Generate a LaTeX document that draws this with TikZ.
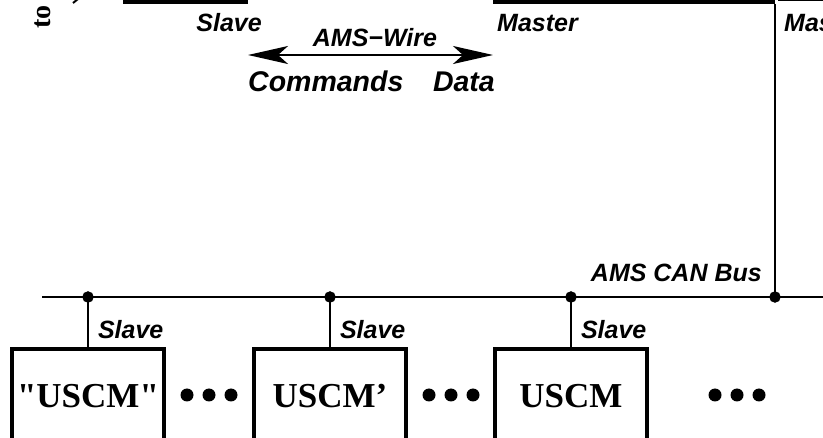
\documentclass[tikz,border=0pt]{standalone}
\usepackage{fontspec}
\setmainfont{Liberation Serif}[Ligatures=TeXOff]
\newfontfamily\labelfont{Liberation Sans}
\usetikzlibrary{arrows.meta}
\tikzset{
	unit/.style={draw, line width=4pt, minimum width=152pt, minimum height=94pt, inner sep=0pt, font=\bfseries\fontsize{35}{40}\selectfont},
	topbox/.style={draw, line width=4pt, inner sep=0pt, minimum height=80pt, anchor=south west},
	lbl/.style={font=\labelfont\bfseries\itshape\fontsize{25}{30}\selectfont, inner sep=0pt},
	biglbl/.style={font=\labelfont\bfseries\itshape\fontsize{28.5}{32}\selectfont, inner sep=0pt},
	wire/.style={line width=2pt},
	wirehead/.tip={Stealth[length=40pt, width=18pt, inset=10pt]},
}

\begin{document}
\begin{tikzpicture}[x=1pt, y=-1pt]
		\useasboundingbox (0,0) rectangle (823,438);
		\clip (0,0) rectangle (823,438);
		\node[rotate=90, anchor=base west, font=\bfseries\fontsize{28}{30}\selectfont, inner sep=0pt] (toText) at (50,29) {to};
		\draw[wire] (73,3) -- (78,-1);
		\node[topbox, minimum width=121pt] (slaveTop) at (123,4) {};
		\node[topbox, minimum width=278pt] (masterTop) at (493,4) {};
		\node[topbox, minimum width=100pt] (masterNext) at (778,1) {};
		\node[lbl, anchor=base east] (slaveTopL) at (262,32) {Slave};
		\node[lbl, anchor=base west] (masterTopL) at (497,32) {Master};
		\node[lbl, anchor=base west] (masterNextL) at (784,32) {Master};
		\coordinate (wireL) at (248,55);
		\coordinate (wireR) at (493,55);
		\draw[wire, wirehead-wirehead] (wireL) -- (wireR);
		\node[lbl, anchor=base] (wireName) at (375,47) {AMS−Wire};
		\node[biglbl, anchor=base west] (cmdL) at (248,92) {Commands};
		\node[biglbl, anchor=base east] (dataL) at (495,92) {Data};
		\coordinate (busL) at (42,297);
		\coordinate (busR) at (823,297);
		\draw[wire] (busL) -- (busR);
		\node[lbl, anchor=base east] (busName) at (762,282) {AMS CAN Bus};
		\node[unit] (uscmA) at (88,396) {"USCM"};
		\node[unit] (uscmB) at (330,396) {USCM’};
		\node[unit] (uscmC) at (571,396) {USCM};
		\foreach \u in {uscmA,uscmB,uscmC} {
		\draw[wire] (\u.north |- busL) -- (\u.north) node[lbl, anchor=base west, xshift=9pt, yshift=8pt]{Slave};
		\filldraw (\u.north |- busL) circle(5.5pt);
		}
		\draw[wire] (masterTop.south east) -- (masterTop.south east |- busL);
		\filldraw (masterTop.south east |- busL) circle(5.5pt);
		\foreach \x in {187,429,715} {
		\foreach \d in {0,1,2} {
		\fill (\x+22*\d, 395) circle(6.5pt);
		}
		}
	\end{tikzpicture}
\end{document}
